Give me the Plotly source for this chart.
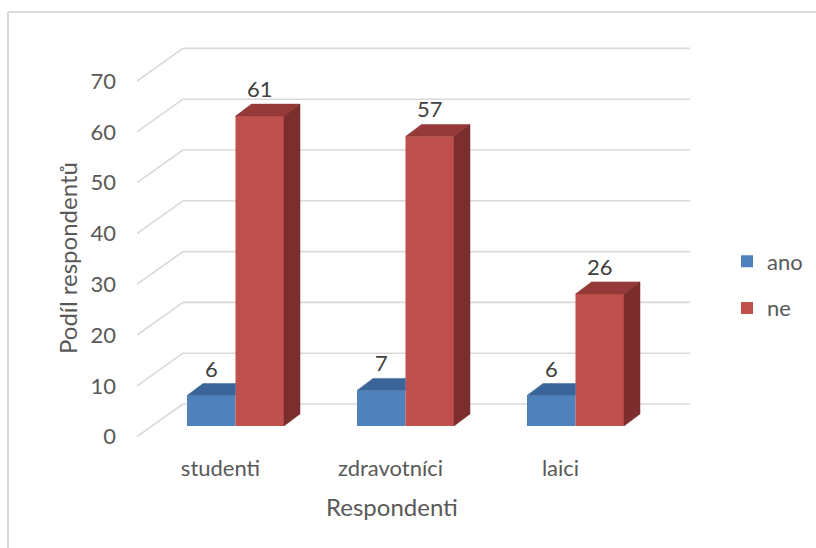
import plotly.graph_objects as go

# ---- data -------------------------------------------------------------
categories = ["studenti", "zdravotníci", "laici"]
ano = [6, 7, 6]
ne = [61, 57, 26]
series_names = ["ano", "ne"]
y_ticks = [0, 10, 20, 30, 40, 50, 60, 70]

# ---- geometry (pixels -> axis units) ----------------------------------
W, H = 816, 548
L, R, T, B = 137, 126, 40, 102
PLOT_W = W - L - R
PLOT_H = H - T - B
PX_PER_CAT = 170.0      # horizontal distance between category groups
PX_PER_UNIT = 5.08      # vertical pixels per respondent
CAT0_PX = 235.5         # x pixel of first group's front centre
ZERO_PX = 426.0         # y pixel of value 0 on the bar front plane

x_range = [(L - CAT0_PX) / PX_PER_CAT, (W - R - CAT0_PX) / PX_PER_CAT]
y_range = [(ZERO_PX - (H - B)) / PX_PER_UNIT, (ZERO_PX - T) / PX_PER_UNIT]


def ux(px):
    return px / PX_PER_CAT


def uv(px):
    return px / PX_PER_UNIT


def paper_x(px):
    return (px - L) / PLOT_W


def paper_y(py):
    return (H - B - py) / PLOT_H


BAR_W = ux(48.5)
BAR_DX, BAR_DV = ux(16), uv(12)        # bar depth
FRONT_DX, FRONT_DV = ux(-15), uv(-10.7)  # front edge of the floor / side wall
BACK_DX, BACK_DV = ux(31), uv(22)        # back wall

COLORS = {
    "ano": {"front": "#4f81bd", "top": "#3b6598", "side": "#2f5079"},
    "ne": {"front": "#c0504d", "top": "#953a38", "side": "#7b2e2d"},
}
GRID = "#d9d9d9"
TEXT = "#595959"
FONT = "Lato"
FS = 22
TITLE_FS = 24

fig = go.Figure()

# ---- front faces of the bars ------------------------------------------
values = {"ano": ano, "ne": ne}
xs = list(range(len(categories)))
for k, name in enumerate(series_names):
    fig.add_trace(go.Bar(
        x=xs, y=values[name], name=name,
        width=BAR_W, offset=-BAR_W + k * BAR_W,
        marker=dict(color=COLORS[name]["front"], line=dict(width=0)),
        legendgroup=name, hoverinfo="skip",
    ))

# ---- top and side faces -----------------------------------------------
annotations = []
for i in xs:
    for k, name in enumerate(series_names):
        v = values[name][i]
        x0 = i - BAR_W + k * BAR_W
        x1 = x0 + BAR_W
        neighbour = values[series_names[k + 1]][i] if k + 1 < len(series_names) else None
        hidden_right = neighbour is not None and neighbour >= v
        if hidden_right:
            tx = [x0, x1, x1, x0 + BAR_DX, x0]
        else:
            tx = [x0, x1, x1 + BAR_DX, x0 + BAR_DX, x0]
        ty = [v, v, v + BAR_DV, v + BAR_DV, v]
        fig.add_trace(go.Scatter(
            x=tx, y=ty, mode="lines", fill="toself",
            fillcolor=COLORS[name]["top"],
            line=dict(color=COLORS[name]["top"], width=0.5),
            showlegend=False, hoverinfo="skip",
        ))
        if not hidden_right:
            fig.add_trace(go.Scatter(
                x=[x1, x1, x1 + BAR_DX, x1 + BAR_DX, x1],
                y=[0, v, v + BAR_DV, BAR_DV, 0],
                mode="lines", fill="toself",
                fillcolor=COLORS[name]["side"],
                line=dict(color=COLORS[name]["side"], width=0.5),
                showlegend=False, hoverinfo="skip",
            ))
        annotations.append(dict(
            x=x0 + BAR_W / 2, y=v + BAR_DV, xref="x", yref="y",
            text=str(v), showarrow=False, yanchor="bottom", yshift=0,
            font=dict(size=FS, color="#404040"),
        ))

# ---- gridlines on the side and back walls -----------------------------
shapes = []
for t in y_ticks:
    xa, ya = x_range[0], t + FRONT_DV
    xb, yb = x_range[0] + (BACK_DX - FRONT_DX), t + BACK_DV
    shapes.append(dict(type="line", xref="x", yref="y", x0=xa, y0=ya, x1=xb, y1=yb,
                       line=dict(color=GRID, width=1.6), layer="below"))
    shapes.append(dict(type="line", xref="x", yref="y", x0=xb, y0=yb, x1=x_range[1], y1=yb,
                       line=dict(color=GRID, width=1.6), layer="below"))

# chart frame (top and left edges)
shapes.append(dict(type="line", xref="paper", yref="paper",
                   x0=paper_x(8), y0=paper_y(12), x1=paper_x(W + 2), y1=paper_y(12),
                   line=dict(color=GRID, width=2)))
shapes.append(dict(type="line", xref="paper", yref="paper",
                   x0=paper_x(8), y0=paper_y(12), x1=paper_x(8), y1=paper_y(H + 2),
                   line=dict(color=GRID, width=2)))

# axis titles
annotations.append(dict(x=paper_x(67), y=paper_y(258), xref="paper", yref="paper",
                        xanchor="center", yanchor="middle",
                        text="Podíl respondentů", textangle=-90, showarrow=False,
                        font=dict(size=TITLE_FS, color=TEXT)))
annotations.append(dict(x=paper_x(392), y=paper_y(506), xref="paper", yref="paper",
                        xanchor="center", yanchor="middle",
                        text="Respondenti", showarrow=False,
                        font=dict(size=TITLE_FS, color=TEXT)))

fig.update_layout(
    width=W, height=H,
    margin=dict(l=L, r=R, t=T, b=B),
    paper_bgcolor="white", plot_bgcolor="white",
    font=dict(family=FONT, size=FS, color=TEXT),
    barmode="overlay",
    shapes=shapes,
    annotations=annotations,
    xaxis=dict(range=x_range, showgrid=False, zeroline=False, showline=False,
               tickmode="array", tickvals=[i + FRONT_DX for i in xs], ticktext=categories,
               ticks="", ticklabelstandoff=7, fixedrange=True),
    yaxis=dict(range=y_range, showgrid=False, zeroline=False, showline=False,
               tickmode="array", tickvals=[t + FRONT_DV for t in y_ticks],
               ticktext=[str(t) for t in y_ticks],
               ticks="", ticklabelstandoff=20, fixedrange=True),
    legend=dict(xref="container", yref="container", x=727 / W, y=1 - 285 / H,
                xanchor="left", yanchor="middle", tracegroupgap=15,
                font=dict(size=FS, color=TEXT), itemwidth=30,
                bgcolor="rgba(0,0,0,0)"),
    showlegend=True,
)

fig.write_html("out.html")
